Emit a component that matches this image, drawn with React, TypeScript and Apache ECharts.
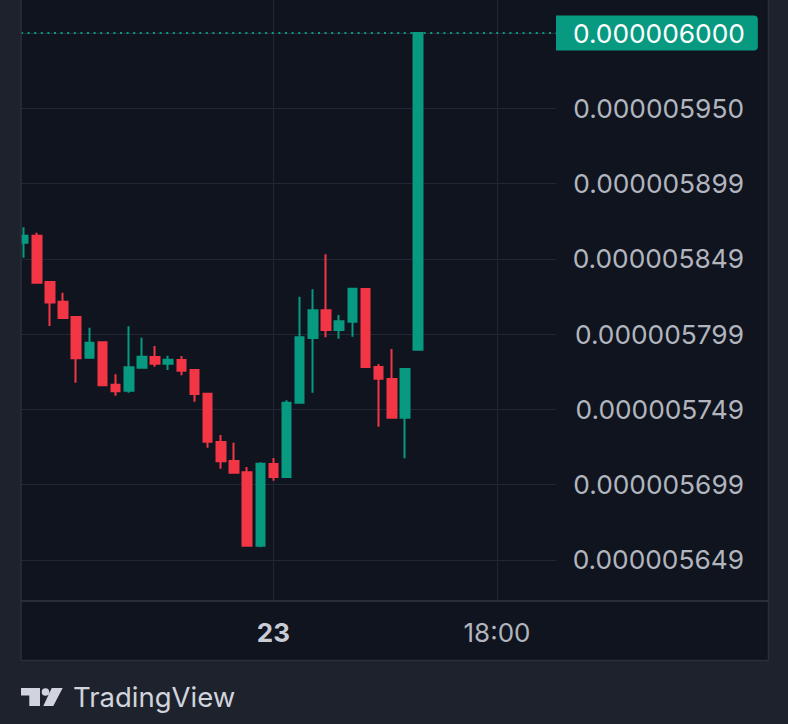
import React, { useEffect, useRef } from "react";
import * as echarts from "echarts";

// Prices are given in units of 1e-9 (5865.0 means 0.0000058650)
const PRICE_UNIT = 1e-9;
const openP = [5860.3, 5865.0, 5834.2, 5821.0, 5810.9, 5783.7, 5794.0, 5765.8, 5761.8, 5777.1, 5784.2, 5779.8, 5782.2, 5775.6, 5759.8, 5727.6, 5715.0, 5707.4, 5658.5, 5713.0, 5704.3, 5753.8, 5796.9, 5815.3, 5802.2, 5807.7, 5829.5, 5777.6, 5769.6, 5743.8, 5789.1];
const closeP = [5865.0, 5833.7, 5820.6, 5810.2, 5783.4, 5793.7, 5765.4, 5761.4, 5777.4, 5784.4, 5779.8, 5782.4, 5775.1, 5759.6, 5727.8, 5714.8, 5707.2, 5658.5, 5713.1, 5704.3, 5753.8, 5797.3, 5815.3, 5802.2, 5808.0, 5829.7, 5777.6, 5769.8, 5743.8, 5776.2, 6000.0];
const lowP = [5850.4, 5833.5, 5804.9, 5810.0, 5767.1, 5783.5, 5765.2, 5758.4, 5760.4, 5776.4, 5777.8, 5775.6, 5772.0, 5754.4, 5723.8, 5709.8, 5707.0, 5657.9, 5657.5, 5701.8, 5704.0, 5753.5, 5760.4, 5797.3, 5796.4, 5797.7, 5777.4, 5737.8, 5743.6, 5716.8, 5789.0];
const highP = [5870.6, 5867.0, 5834.3, 5827.0, 5811.0, 5803.7, 5794.5, 5772.7, 5804.7, 5797.1, 5791.5, 5785.1, 5784.9, 5776.0, 5760.0, 5732.3, 5727.1, 5711.0, 5714.1, 5717.0, 5755.4, 5824.4, 5829.3, 5852.6, 5812.2, 5830.0, 5830.2, 5779.6, 5789.5, 5776.5, 6000.0];

// Price scale ticks (same units) and their labels
const yTickValues = [6000, 5949.86, 5899.72, 5849.58, 5799.44, 5749.3, 5699.16, 5649.02];
const yTickLabels = ["0.000006000", "0.000005950", "0.000005899", "0.000005849", "0.000005799", "0.000005749", "0.000005699", "0.000005649"];

// Time scale ticks (bar index) and labels
const xTickIndex = [19, 36];
const xTickLabels = ["23", "18:00"];
const xTickIsDay = [true, false];

// Visible ranges
const X_MIN = -0.198;
const X_MAX = 40.49;
const Y_MIN = 5621.7;
const Y_MAX = 6022.0;

const UP = "#089981";
const DOWN = "#f23645";
const FONT = "Inter, 'Noto Sans', sans-serif";

const LOGO_D =
  "M0 0H19V18H8.3V7.4H0Z M28.3 4a3.8 3.8 0 1 1 -7.6 0a3.8 3.8 0 1 1 7.6 0Z M30.7 0H41.7L32.3 18H22.3Z";

let registered = false;
function ensureShapes() {
  if (registered) return;
  echarts.graphic.registerShape("tvlogo", echarts.graphic.extendPath(LOGO_D, {}) as any);
  registered = true;
}

export default function App() {
  const ref = useRef<HTMLDivElement>(null);

  useEffect(() => {
    if (!ref.current) return;
    ensureShapes();
    const chart = echarts.init(ref.current, null, { renderer: "svg" });

    const data = openP.map((o, i) => [i, o, closeP[i], lowP[i], highP[i]]);
    const last = closeP[closeP.length - 1];

    const option: any = {
      animation: false,
      backgroundColor: "#1e222d",
      grid: {
        left: 21,
        right: 232,
        top: 0,
        bottom: 123,
        containLabel: false,
        outerBoundsMode: "none",
      },
      xAxis: {
        type: "value",
        min: X_MIN,
        max: X_MAX,
        axisLine: { show: false },
        axisTick: { show: false, customValues: xTickIndex },
        axisLabel: {
          customValues: xTickIndex,
          margin: 18,
          fontSize: 26,
          fontFamily: FONT,
          color: "#b2b5be",
          formatter: (v: number) => {
            const i = xTickIndex.indexOf(Math.round(v));
            if (i < 0) return "";
            return xTickIsDay[i] ? `{d|${xTickLabels[i]}}` : xTickLabels[i];
          },
          rich: {
            d: { fontSize: 26, fontWeight: "bold", fontFamily: FONT, color: "#c9ccd4" },
          },
        },
        splitLine: { show: true, lineStyle: { color: "#222733", width: 1 } },
      },
      yAxis: {
        type: "value",
        position: "right",
        min: Y_MIN,
        max: Y_MAX,
        scale: true,
        axisLine: { show: false },
        axisTick: { show: false, customValues: yTickValues },
        axisLabel: {
          customValues: yTickValues.slice(1),
          align: "right",
          margin: 188,
          fontSize: 26.3,
          fontFamily: FONT,
          color: "#b2b5be",
          formatter: (v: number) => {
            const i = yTickValues.findIndex((t) => Math.abs(t - v) < 0.01);
            return i >= 0 ? yTickLabels[i] : "";
          },
        },
        splitLine: { show: true, lineStyle: { color: "#222733", width: 1 } },
      },
      series: [
        {
          type: "candlestick",
          clip: false,
          barWidth: 9,
          encode: { x: 0, y: [1, 2, 3, 4] },
          data,
          itemStyle: {
            color: UP,
            color0: DOWN,
            borderColor: UP,
            borderColor0: DOWN,
            borderWidth: 2,
          },
          markLine: {
            silent: true,
            symbol: ["none", "none"],
            lineStyle: { color: UP, type: [2, 4.6], width: 2 },
            label: {
              show: true,
              position: "end",
              distance: 0,
              formatter: () => (last * PRICE_UNIT).toFixed(9),
              color: "#ffffff",
              backgroundColor: UP,
              padding: [5, 13, 4, 17],
              borderRadius: [0, 4, 4, 0],
              fontSize: 26.3,
              lineHeight: 26,
              fontFamily: FONT,
            },
            data: [{ yAxis: last }],
          },
        },
      ],
      graphic: {
        elements: [
          {
            type: "rect",
            z: -10,
            silent: true,
            shape: { x: 21, y: 0, width: 747, height: 660 },
            style: { fill: "#0f141f" },
          },
          {
            type: "rect",
            z: 100,
            silent: true,
            shape: { x: 0, y: 0, width: 21, height: 660 },
            style: { fill: "#1e222d" },
          },
          {
            type: "line",
            z: 101,
            silent: true,
            shape: { x1: 21, y1: 0, x2: 21, y2: 661 },
            style: { stroke: "#2a2e39", lineWidth: 1.5 },
          },
          {
            type: "line",
            z: 101,
            silent: true,
            shape: { x1: 768.5, y1: 0, x2: 768.5, y2: 661 },
            style: { stroke: "#2a2e39", lineWidth: 1.5 },
          },
          {
            type: "line",
            z: 101,
            silent: true,
            shape: { x1: 21, y1: 660.5, x2: 769, y2: 660.5 },
            style: { stroke: "#2a2e39", lineWidth: 1.5 },
          },
          {
            type: "line",
            z: 101,
            silent: true,
            shape: { x1: 21, y1: 601, x2: 769, y2: 601 },
            style: { stroke: "#2a2e39", lineWidth: 2 },
          },
          {
            type: "tvlogo",
            z: 101,
            silent: true,
            x: 21,
            y: 688,
            style: { fill: "#d1d4dc" },
          },
          {
            type: "text",
            z: 101,
            silent: true,
            x: 73,
            y: 697,
            style: {
              text: "TradingView",
              fill: "#d1d4dc",
              fontSize: 27.5,
              fontFamily: FONT,
              fontWeight: 400,
              textVerticalAlign: "middle",
              textAlign: "left",
            },
          },
        ],
      },
    };

    chart.setOption(option);
    return () => chart.dispose();
  }, []);

  return (
    <div
      ref={ref}
      style={{ position: "fixed", left: 0, top: 0, width: 788, height: 724 }}
    />
  );
}
